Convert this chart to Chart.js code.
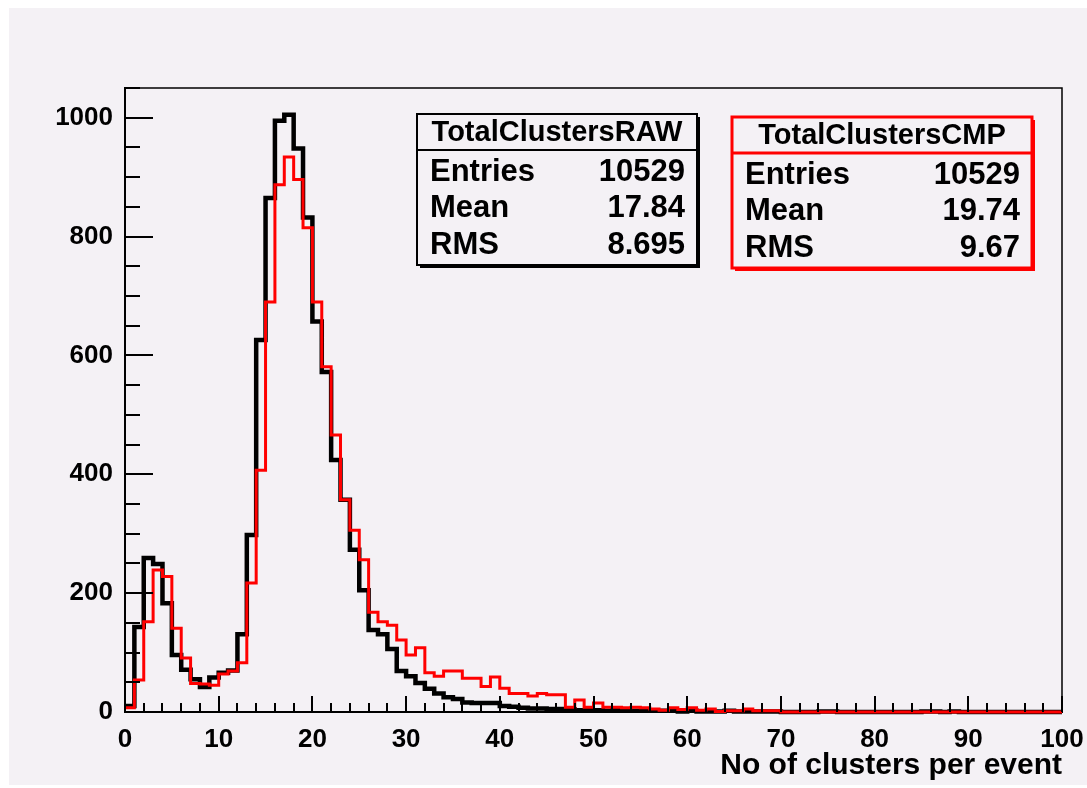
<!DOCTYPE html>
<html>
<head>
<meta charset="utf-8">
<title>No of clusters per event</title>
<script src="https://cdn.jsdelivr.net/npm/chart.js@4.4.0/dist/chart.umd.min.js"></script>
<style>
    html, body { margin: 0; padding: 0; background: #ffffff; }
    #wrap { width: 1087px; height: 788px; }
</style>
</head>
<body>
<div id="wrap"><canvas id="clusterChart" width="1087" height="788"></canvas></div>
<script>
// one count per bin, bin i covers [i, i+1)
const rawCounts = [
    10, 143, 259, 249, 183, 96, 71, 55, 42, 58,
    66, 70, 131, 298, 626, 865, 995, 1005, 948, 832,
    657, 572, 424, 357, 273, 205, 138, 131, 106, 69,
    60, 49, 39, 31, 25, 22, 16, 15, 15, 15,
    10, 9, 7, 6, 6, 5, 5, 4, 3, 3,
    3, 2, 3, 2, 2, 2, 2, 2, 2, 1,
    2, 1, 1, 1, 2, 1, 1, 1, 1, 1,
    0, 0, 0, 0, 1, 1, 0, 0, 0, 0,
    0, 0, 0, 0, 0, 1, 1, 0, 1, 0,
    0, 0, 0, 0, 0, 0, 0, 0, 0, 0
];
const cmpCounts = [
    7, 54, 152, 239, 228, 141, 91, 48, 47, 45,
    64, 69, 83, 217, 407, 690, 887, 934, 896, 815,
    690, 581, 466, 357, 306, 256, 168, 152, 146, 121,
    96, 108, 66, 60, 69, 69, 57, 57, 43, 59,
    40, 31, 31, 27, 31, 29, 29, 8, 20, 8,
    15, 8, 8, 7, 8, 7, 5, 3, 7, 4,
    7, 3, 5, 1, 2, 2, 5, 2, 2, 2,
    0, 0, 0, 0, 0, 0, 0, 0, 0, 0,
    0, 0, 0, 0, 0, 0, 0, 0, 0, 0,
    0, 0, 0, 0, 0, 0, 0, 0, 0, 0
];
const xTickValues = [0, 10, 20, 30, 40, 50, 60, 70, 80, 90, 100];
const yTickValues = [0, 200, 400, 600, 800, 1000];
const statNames = ['Entries', 'Mean', 'RMS'];
const rawStats = ['10529', '17.84', '8.695'];
const cmpStats = ['10529', '19.74', '9.67'];

const FONT = "'Liberation Sans', Arial, Helvetica, sans-serif";

// histogram outline: one point per bin edge, drawn as steps
function toSteps(counts) {
    const pts = counts.map((v, i) => ({ x: i, y: v }));
    pts.push({ x: counts.length, y: counts[counts.length - 1] });
    return pts;
}

function drawStatBox(ctx, b, color, title, values) {
    ctx.save();
    // shadow on right and bottom, like ROOT
    ctx.fillStyle = color;
    ctx.fillRect(b.x + 3, b.y + b.h, b.w, 3);
    ctx.fillRect(b.x + b.w, b.y + 3, 3, b.h);
    ctx.fillStyle = '#f4f1f5';
    ctx.fillRect(b.x, b.y, b.w, b.h);
    ctx.strokeStyle = color;
    ctx.lineWidth = b.lw;
    ctx.strokeRect(b.x, b.y, b.w, b.h);
    ctx.beginPath();
    ctx.moveTo(b.x, b.y + b.head);
    ctx.lineTo(b.x + b.w, b.y + b.head);
    ctx.stroke();

    ctx.fillStyle = '#000';
    ctx.textBaseline = 'middle';
    ctx.textAlign = 'center';
    ctx.font = 'bold 29px ' + FONT;
    ctx.fillText(title, b.x + b.w / 2, b.y + b.head / 2 + 1);

    ctx.font = 'bold 31px ' + FONT;
    statNames.forEach((name, i) => {
        const y = b.y + b.head + 22 + i * 36.5;
        ctx.textAlign = 'left';
        ctx.fillText(name, b.x + 13, y);
        ctx.textAlign = 'right';
        ctx.fillText(values[i], b.x + b.w - 12, y);
    });
    ctx.restore();
}

const rootFrame = {
    id: 'rootFrame',
    beforeDraw(chart) {
        const ctx = chart.ctx;
        ctx.save();
        ctx.fillStyle = '#ffffff';
        ctx.fillRect(0, 0, chart.width, chart.height);
        ctx.fillStyle = '#f4f1f5';
        ctx.fillRect(9, 8, chart.width - 9, chart.height - 11);
        ctx.restore();
    },
    afterDraw(chart) {
        const ctx = chart.ctx;
        const area = chart.chartArea;
        const xs = chart.scales.x;
        const ys = chart.scales.y;
        ctx.save();
        ctx.strokeStyle = '#000';
        ctx.lineWidth = 1.5;
        ctx.beginPath();
        ctx.moveTo(area.left, area.top);
        ctx.lineTo(area.right, area.top);
        ctx.lineTo(area.right, area.bottom);
        ctx.stroke();

        // inward ticks
        ctx.lineWidth = 2;
        ctx.beginPath();
        for (let v = 0; v <= 100; v += 2) {
            const px = Math.round(xs.getPixelForValue(v));
            const len = v % 10 === 0 ? 16 : 9;
            ctx.moveTo(px, area.bottom);
            ctx.lineTo(px, area.bottom - len);
        }
        for (let v = 0; v <= 1050; v += 50) {
            const py = Math.round(ys.getPixelForValue(v));
            const len = v % 200 === 0 ? 28 : 15;
            ctx.moveTo(area.left, py);
            ctx.lineTo(area.left + len, py);
        }
        ctx.stroke();
        ctx.restore();

        drawStatBox(ctx, { x: 417, y: 114, w: 280, h: 151, head: 36, lw: 2 }, '#000', 'TotalClustersRAW', rawStats);
        drawStatBox(ctx, { x: 732, y: 117, w: 300, h: 151, head: 36, lw: 3 }, '#ff0000', 'TotalClustersCMP', cmpStats);
    }
};

const ctx = document.getElementById('clusterChart').getContext('2d');
const chart = new Chart(ctx, {
    type: 'line',
    data: {
        datasets: [{
            label: 'TotalClustersCMP',
            data: toSteps(cmpCounts),
            stepped: 'before',
            borderColor: '#ff0000',
            borderWidth: 3,
            pointRadius: 0,
            fill: false,
            clip: false,
            borderJoinStyle: 'miter',
            order: 1
        }, {
            label: 'TotalClustersRAW',
            data: toSteps(rawCounts),
            stepped: 'before',
            borderColor: '#000000',
            borderWidth: 4.5,
            pointRadius: 0,
            fill: false,
            clip: false,
            borderJoinStyle: 'miter',
            order: 2
        }]
    },
    options: {
        responsive: false,
        animation: false,
        devicePixelRatio: 1,
        layout: { padding: { top: 88, right: 25, left: 0, bottom: 0 } },
        plugins: {
            legend: { display: false },
            tooltip: { enabled: false }
        },
        scales: {
            x: {
                type: 'linear',
                min: 0,
                max: 100,
                afterBuildTicks: s => { s.ticks = xTickValues.map(v => ({ value: v })); },
                afterFit: s => { s.height = 76; s.paddingLeft = 0; s.paddingRight = 0; },
                grid: { display: true, drawOnChartArea: false, drawTicks: false },
                border: { display: true, color: '#000', width: 2 },
                ticks: {
                    color: '#000',
                    padding: 12,
                    maxRotation: 0,
                    autoSkip: false,
                    callback: v => String(v),
                    font: { family: FONT, weight: 'bold', size: 26 }
                },
                title: {
                    display: true,
                    text: 'No of clusters per event',
                    align: 'end',
                    color: '#000',
                    padding: { top: 0, bottom: 4 },
                    font: { family: FONT, weight: 'bold', size: 30 }
                }
            },
            y: {
                type: 'linear',
                min: 0,
                max: 1050,
                afterBuildTicks: s => { s.ticks = yTickValues.map(v => ({ value: v })); },
                afterFit: s => { s.width = 125; s.paddingTop = 0; s.paddingBottom = 0; },
                grid: { display: true, drawOnChartArea: false, drawTicks: false },
                border: { display: true, color: '#000', width: 2 },
                ticks: {
                    color: '#000',
                    padding: 12,
                    autoSkip: false,
                    callback: v => String(v),
                    font: { family: FONT, weight: 'bold', size: 26 }
                }
            }
        }
    },
    plugins: [rootFrame]
});
</script>
</body>
</html>
